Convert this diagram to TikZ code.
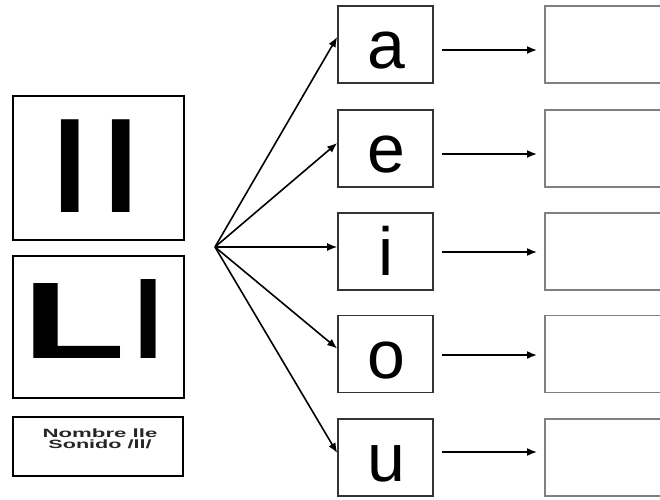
\documentclass[tikz,border=0pt]{standalone}
\usepackage{fontspec}
\setmainfont{Liberation Sans}
\usetikzlibrary{arrows.meta}
\begin{document}
\begin{tikzpicture}[x=1pt,y=-1pt,
  lbox/.style={draw=black,line width=2.2pt,inner sep=0pt},
  vbox/.style={draw=black!80,line width=1.6pt,minimum width=95pt,minimum height=77pt,inner sep=0pt},
  rbox/.style={draw=black!50,line width=1.8pt,minimum width=130pt,minimum height=77pt,inner sep=0pt,anchor=west},
  vowel/.style={anchor=base,inner sep=0pt,font=\fontsize{68}{68}\selectfont},
  arr/.style={-{Latex[length=10pt,width=8pt]},line width=1.6pt,black}]
\clip (0,0) rectangle (660,499);
\fill[white] (0,0) rectangle (660,499);
% left boxes
\node[lbox,minimum width=171pt,minimum height=144pt] (b1) at (98.5,168) {};
\node[lbox,minimum width=171pt,minimum height=142pt] (b2) at (98.5,327) {};
\node[lbox,minimum width=170pt,minimum height=59pt] (b3) at (98,446.5) {};
\node[anchor=base,inner sep=0pt,font=\fontsize{128}{128}\bfseries\selectfont] (t1) at (96,212) {l\kern15pt l};
\node[anchor=base,inner sep=0pt,font=\fontsize{109}{109}\bfseries\selectfont] (t2) at (93.5,358) {\scalebox{1.55}[1]{L}\kern8pt l};
\node[anchor=base,inner sep=0pt,text=black!85,font=\fontsize{12}{12}\bfseries\selectfont] (c1) at (100,437) {\scalebox{1.85}[1]{Nombre lle}};
\node[anchor=base,inner sep=0pt,text=black!85,font=\fontsize{12}{12}\bfseries\selectfont] (c2) at (100,448) {\scalebox{1.8}[1]{Sonido /ll/}};
% hub
\coordinate (hub) at (215,247);
% vowel boxes
\node[vbox] (va) at (385.5,44.5) {};
\node[vbox] (ve) at (385.5,148.5) {};
\node[vbox] (vi) at (385.5,251.5) {};
\node[vbox] (vo) at (385.5,354) {};
\node[vbox] (vu) at (385.5,457.5) {};
\node[vowel] (la) at (386,68) {a};
\node[vowel] (le) at (386,172) {e};
\node[vowel] (li) at (386,275) {i};
\node[vowel] (lo) at (386,378) {o};
\node[vowel] (lu) at (386,481) {u};
% right boxes
\node[rbox] (ra) at (544,44.5) {};
\node[rbox] (re) at (544,148.5) {};
\node[rbox] (ri) at (544,251.5) {};
\node[rbox] (ro) at (544,354) {};
\node[rbox] (ru) at (544,457.5) {};
% fan arrows
\draw[arr] (hub) -- ([yshift=7.5pt]va.west);
\draw[arr] (hub) -- ([yshift=5.5pt]ve.west);
\draw[arr] (hub) -- ([yshift=4.5pt]vi.west);
\draw[arr] (hub) -- ([yshift=5.5pt]vo.west);
\draw[arr] (hub) -- ([yshift=4.5pt]vu.west);
% horizontal arrows
\draw[arr] ([xshift=8pt,yshift=-5.5pt]va.east) -- ([xshift=-7pt,yshift=-5.5pt]ra.west);
\draw[arr] ([xshift=8pt,yshift=-5.5pt]ve.east) -- ([xshift=-7pt,yshift=-5.5pt]re.west);
\draw[arr] ([xshift=8pt,yshift=-0.5pt]vi.east) -- ([xshift=-7pt,yshift=-0.5pt]ri.west);
\draw[arr] ([xshift=8pt,yshift=-1pt]vo.east) -- ([xshift=-7pt,yshift=-1pt]ro.west);
\draw[arr] ([xshift=8pt,yshift=5.5pt]vu.east) -- ([xshift=-7pt,yshift=5.5pt]ru.west);
\end{tikzpicture}
\end{document}
